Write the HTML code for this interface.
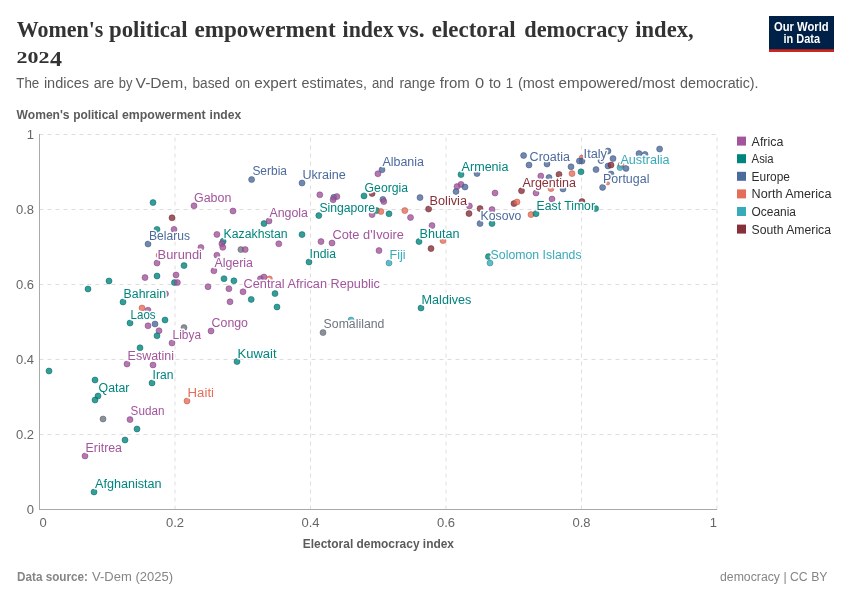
<!DOCTYPE html>
<html lang="en"><head><meta charset="utf-8"><title>Women's political empowerment index vs. electoral democracy index, 2024</title>
<style>
html,body{margin:0;padding:0;background:#fff;}
body{width:850px;height:600px;overflow:hidden;}
svg{display:block;font-family:"Liberation Sans",Arial,sans-serif;}
.ttl{font-family:"Liberation Serif","Times New Roman",serif;font-weight:bold;fill:#333;}
.sub{font-size:14px;fill:#5b5b5b;}
.axt{font-size:12px;font-weight:bold;fill:#5b5b5b;}
.tick{font-size:13px;fill:#666;}
.grid line{stroke:#ddd;stroke-width:1;stroke-dasharray:4,4;}
.lbl text{font-size:12.5px;stroke:#fff;stroke-width:3px;stroke-linejoin:round;paint-order:stroke fill;}
.leg text{font-size:12.5px;fill:#2d2d2d;}
.foot{font-size:12.5px;fill:#858585;}
.logo text{font-size:12.4px;font-weight:bold;fill:#fff;text-anchor:middle;}
</style></head><body>
<svg width="850" height="600" viewBox="0 0 850 600">
<rect width="850" height="600" fill="#fff"/>
<text class="ttl" y="36.6" font-size="22.6"><tspan x="16.7" textLength="86.7" lengthAdjust="spacingAndGlyphs">Women's</tspan> <tspan x="109.0" textLength="78.6" lengthAdjust="spacingAndGlyphs">political</tspan> <tspan x="194.4" textLength="141.3" lengthAdjust="spacingAndGlyphs">empowerment</tspan> <tspan x="342.6" textLength="51.0" lengthAdjust="spacingAndGlyphs">index</tspan> <tspan x="397.6" textLength="27.0" lengthAdjust="spacingAndGlyphs">vs.</tspan> <tspan x="431.8" textLength="83.9" lengthAdjust="spacingAndGlyphs">electoral</tspan> <tspan x="524.3" textLength="104.1" lengthAdjust="spacingAndGlyphs">democracy</tspan> <tspan x="635.3" textLength="58.3" lengthAdjust="spacingAndGlyphs">index,</tspan></text>
<text class="ttl" y="62.6" font-size="16.8"><tspan x="16.6" textLength="33" lengthAdjust="spacingAndGlyphs">202</tspan><tspan x="50" dy="3" font-size="21" textLength="12" lengthAdjust="spacingAndGlyphs">4</tspan></text>
<text class="sub" y="87.6"><tspan x="16.3" textLength="23.0" lengthAdjust="spacingAndGlyphs">The</tspan> <tspan x="43.9" textLength="45.2" lengthAdjust="spacingAndGlyphs">indices</tspan> <tspan x="93.7" textLength="20.5" lengthAdjust="spacingAndGlyphs">are</tspan> <tspan x="118.8" textLength="13.7" lengthAdjust="spacingAndGlyphs">by</tspan> <tspan x="135.6" textLength="52.0" lengthAdjust="spacingAndGlyphs">V-Dem,</tspan> <tspan x="192.5" textLength="37.3" lengthAdjust="spacingAndGlyphs">based</tspan> <tspan x="235.0" textLength="15.2" lengthAdjust="spacingAndGlyphs">on</tspan> <tspan x="254.2" textLength="42.5" lengthAdjust="spacingAndGlyphs">expert</tspan> <tspan x="301.6" textLength="65.4" lengthAdjust="spacingAndGlyphs">estimates,</tspan> <tspan x="371.9" textLength="22.0" lengthAdjust="spacingAndGlyphs">and</tspan> <tspan x="399.4" textLength="35.8" lengthAdjust="spacingAndGlyphs">range</tspan> <tspan x="439.8" textLength="30.0" lengthAdjust="spacingAndGlyphs">from</tspan> <tspan x="475.0" textLength="9.2" lengthAdjust="spacingAndGlyphs">0</tspan> <tspan x="489.0" textLength="12.0" lengthAdjust="spacingAndGlyphs">to</tspan> <tspan x="505.7" textLength="7.3" lengthAdjust="spacingAndGlyphs">1</tspan> <tspan x="517.9" textLength="36.4" lengthAdjust="spacingAndGlyphs">(most</tspan> <tspan x="558.6" textLength="116.5" lengthAdjust="spacingAndGlyphs">empowered/most</tspan> <tspan x="680.0" textLength="78.6" lengthAdjust="spacingAndGlyphs">democratic).</tspan></text>
<g class="logo"><rect x="769" y="16" width="65" height="36" fill="#002147"/><rect x="769" y="49.3" width="65" height="2.7" fill="#CE261E"/>
<text x="801.3" y="30.9" textLength="54.6" lengthAdjust="spacingAndGlyphs">Our World</text><text x="801.8" y="43" textLength="36.5" lengthAdjust="spacingAndGlyphs">in Data</text></g>
<text class="axt" y="119.2"><tspan x="16.6" textLength="53.0" lengthAdjust="spacingAndGlyphs">Women's</tspan> <tspan x="73.2" textLength="45.0" lengthAdjust="spacingAndGlyphs">political</tspan> <tspan x="122.0" textLength="83.6" lengthAdjust="spacingAndGlyphs">empowerment</tspan> <tspan x="209.6" textLength="31.6" lengthAdjust="spacingAndGlyphs">index</tspan></text>
<g class="grid">
<line x1="39.5" x2="717.0" y1="434.5" y2="434.5"/>
<line x1="39.5" x2="717.0" y1="359.5" y2="359.5"/>
<line x1="39.5" x2="717.0" y1="284.5" y2="284.5"/>
<line x1="39.5" x2="717.0" y1="209.5" y2="209.5"/>
<line x1="39.5" x2="717.0" y1="134.5" y2="134.5"/>
<line x1="175.0" x2="175.0" y1="509.5" y2="134.5"/>
<line x1="310.5" x2="310.5" y1="509.5" y2="134.5"/>
<line x1="446.0" x2="446.0" y1="509.5" y2="134.5"/>
<line x1="581.5" x2="581.5" y1="509.5" y2="134.5"/>
<line x1="717.0" x2="717.0" y1="509.5" y2="134.5"/>
</g>
<line x1="39.5" x2="39.5" y1="134.0" y2="510.0" stroke="#a9a9a9" stroke-width="1"/>
<line x1="39.0" x2="717.0" y1="509.5" y2="509.5" stroke="#a9a9a9" stroke-width="1"/>
<text class="tick" x="34" y="513.9" text-anchor="end">0</text>
<text class="tick" x="34" y="438.9" text-anchor="end">0.2</text>
<text class="tick" x="34" y="363.9" text-anchor="end">0.4</text>
<text class="tick" x="34" y="288.9" text-anchor="end">0.6</text>
<text class="tick" x="34" y="213.9" text-anchor="end">0.8</text>
<text class="tick" x="34" y="138.9" text-anchor="end">1</text>
<text class="tick" x="39.5" y="527.3">0</text>
<text class="tick" x="175.0" y="527.3" text-anchor="middle">0.2</text>
<text class="tick" x="310.5" y="527.3" text-anchor="middle">0.4</text>
<text class="tick" x="446.0" y="527.3" text-anchor="middle">0.6</text>
<text class="tick" x="581.5" y="527.3" text-anchor="middle">0.8</text>
<text class="tick" x="717" y="527.3" text-anchor="end">1</text>
<text class="axt" x="302.8" y="548" textLength="151.2" lengthAdjust="spacingAndGlyphs">Electoral democracy index</text>
<g class="dots" fill-opacity="0.8" stroke-width="0.5">
<circle cx="153" cy="202.6" r="3" fill="#00847E" stroke="#006560"/>
<circle cx="194" cy="205.8" r="3" fill="#A2559C" stroke="#7d3f78"/>
<circle cx="172" cy="217.8" r="3" fill="#883039" stroke="#66232a"/>
<circle cx="157" cy="229.4" r="3" fill="#00847E" stroke="#006560"/>
<circle cx="174" cy="229.4" r="3" fill="#A2559C" stroke="#7d3f78"/>
<circle cx="148" cy="244" r="3" fill="#4C6A9C" stroke="#3a5179"/>
<circle cx="251.6" cy="179.6" r="3" fill="#4C6A9C" stroke="#3a5179"/>
<circle cx="302" cy="183" r="3" fill="#4C6A9C" stroke="#3a5179"/>
<circle cx="319.8" cy="194.8" r="3" fill="#A2559C" stroke="#7d3f78"/>
<circle cx="333.8" cy="197.3" r="3" fill="#4C6A9C" stroke="#3a5179"/>
<circle cx="336.9" cy="196.6" r="3" fill="#A2559C" stroke="#7d3f78"/>
<circle cx="333.1" cy="199.8" r="3" fill="#A2559C" stroke="#7d3f78"/>
<circle cx="364" cy="195.9" r="3" fill="#00847E" stroke="#006560"/>
<circle cx="233" cy="211" r="3" fill="#A2559C" stroke="#7d3f78"/>
<circle cx="264" cy="223.6" r="3" fill="#00847E" stroke="#006560"/>
<circle cx="269" cy="221" r="3" fill="#A2559C" stroke="#7d3f78"/>
<circle cx="318.8" cy="215.6" r="3" fill="#00847E" stroke="#006560"/>
<circle cx="302" cy="234.6" r="3" fill="#00847E" stroke="#006560"/>
<circle cx="216.9" cy="234.4" r="3" fill="#A2559C" stroke="#7d3f78"/>
<circle cx="223.1" cy="241.3" r="3" fill="#00847E" stroke="#006560"/>
<circle cx="221.9" cy="243.8" r="3" fill="#A2559C" stroke="#7d3f78"/>
<circle cx="222.8" cy="247.3" r="3" fill="#A2559C" stroke="#7d3f78"/>
<circle cx="278.8" cy="243.8" r="3" fill="#A2559C" stroke="#7d3f78"/>
<circle cx="321" cy="241.6" r="3" fill="#A2559C" stroke="#7d3f78"/>
<circle cx="332" cy="243" r="3" fill="#A2559C" stroke="#7d3f78"/>
<circle cx="382" cy="169.8" r="3" fill="#4C6A9C" stroke="#3a5179"/>
<circle cx="377.9" cy="173.8" r="3" fill="#A2559C" stroke="#7d3f78"/>
<circle cx="372.1" cy="193.5" r="3" fill="#883039" stroke="#66232a"/>
<circle cx="382.9" cy="199.4" r="3" fill="#4C6A9C" stroke="#3a5179"/>
<circle cx="383.8" cy="201.6" r="3" fill="#A2559C" stroke="#7d3f78"/>
<circle cx="420" cy="197.6" r="3" fill="#4C6A9C" stroke="#3a5179"/>
<circle cx="376.6" cy="210.6" r="3" fill="#00847E" stroke="#006560"/>
<circle cx="380.9" cy="211.5" r="3" fill="#E56E5A" stroke="#b8503f"/>
<circle cx="389" cy="213.8" r="3" fill="#00847E" stroke="#006560"/>
<circle cx="372.1" cy="214.6" r="3" fill="#A2559C" stroke="#7d3f78"/>
<circle cx="404.8" cy="210.6" r="3" fill="#E56E5A" stroke="#b8503f"/>
<circle cx="410.5" cy="217.5" r="3" fill="#A2559C" stroke="#7d3f78"/>
<circle cx="428.6" cy="209" r="3" fill="#883039" stroke="#66232a"/>
<circle cx="432" cy="225.6" r="3" fill="#A2559C" stroke="#7d3f78"/>
<circle cx="419" cy="241.6" r="3" fill="#00847E" stroke="#006560"/>
<circle cx="443" cy="240.6" r="3" fill="#E56E5A" stroke="#b8503f"/>
<circle cx="461" cy="174.6" r="3" fill="#00847E" stroke="#006560"/>
<circle cx="477" cy="173.6" r="3" fill="#4C6A9C" stroke="#3a5179"/>
<circle cx="461" cy="184.4" r="3" fill="#A2559C" stroke="#7d3f78"/>
<circle cx="457" cy="186.6" r="3" fill="#A2559C" stroke="#7d3f78"/>
<circle cx="465" cy="187" r="3" fill="#4C6A9C" stroke="#3a5179"/>
<circle cx="456" cy="191.6" r="3" fill="#4C6A9C" stroke="#3a5179"/>
<circle cx="495" cy="193" r="3" fill="#A2559C" stroke="#7d3f78"/>
<circle cx="469.4" cy="206" r="3" fill="#A2559C" stroke="#7d3f78"/>
<circle cx="480" cy="208.6" r="3" fill="#883039" stroke="#66232a"/>
<circle cx="469" cy="213.6" r="3" fill="#883039" stroke="#66232a"/>
<circle cx="492" cy="209.6" r="3" fill="#A2559C" stroke="#7d3f78"/>
<circle cx="480" cy="223.6" r="3" fill="#4C6A9C" stroke="#3a5179"/>
<circle cx="492" cy="223.6" r="3" fill="#00847E" stroke="#006560"/>
<circle cx="523.6" cy="155.5" r="3" fill="#4C6A9C" stroke="#3a5179"/>
<circle cx="529" cy="165" r="3" fill="#4C6A9C" stroke="#3a5179"/>
<circle cx="540.8" cy="176" r="3" fill="#A2559C" stroke="#7d3f78"/>
<circle cx="521.5" cy="190.8" r="3" fill="#883039" stroke="#66232a"/>
<circle cx="536" cy="193" r="3" fill="#A2559C" stroke="#7d3f78"/>
<circle cx="514" cy="203.6" r="3" fill="#883039" stroke="#66232a"/>
<circle cx="517" cy="202" r="3" fill="#E56E5A" stroke="#b8503f"/>
<circle cx="531" cy="214.6" r="3" fill="#E56E5A" stroke="#b8503f"/>
<circle cx="536" cy="213.7" r="3" fill="#00847E" stroke="#006560"/>
<circle cx="659.6" cy="149" r="3" fill="#4C6A9C" stroke="#3a5179"/>
<circle cx="639" cy="153.6" r="3" fill="#4C6A9C" stroke="#3a5179"/>
<circle cx="645" cy="154.4" r="3" fill="#4C6A9C" stroke="#3a5179"/>
<circle cx="608" cy="151" r="3" fill="#4C6A9C" stroke="#3a5179"/>
<circle cx="613" cy="158.6" r="3" fill="#4C6A9C" stroke="#3a5179"/>
<circle cx="601" cy="160.6" r="3" fill="#4C6A9C" stroke="#3a5179"/>
<circle cx="581.6" cy="157.4" r="2.3" fill="#E56E5A" stroke="#b8503f"/>
<circle cx="582" cy="161" r="3" fill="#4C6A9C" stroke="#3a5179"/>
<circle cx="579.4" cy="161" r="3" fill="#4C6A9C" stroke="#3a5179"/>
<circle cx="571" cy="166.8" r="3" fill="#4C6A9C" stroke="#3a5179"/>
<circle cx="547" cy="164" r="3" fill="#4C6A9C" stroke="#3a5179"/>
<circle cx="581" cy="171.8" r="3" fill="#00847E" stroke="#006560"/>
<circle cx="572" cy="173.6" r="3" fill="#E56E5A" stroke="#b8503f"/>
<circle cx="559" cy="174.4" r="3" fill="#883039" stroke="#66232a"/>
<circle cx="549" cy="177.5" r="3" fill="#4C6A9C" stroke="#3a5179"/>
<circle cx="596" cy="169.6" r="3" fill="#4C6A9C" stroke="#3a5179"/>
<circle cx="608" cy="166" r="3" fill="#4C6A9C" stroke="#3a5179"/>
<circle cx="611" cy="165" r="3" fill="#883039" stroke="#66232a"/>
<circle cx="621" cy="165" r="3" fill="#E56E5A" stroke="#b8503f"/>
<circle cx="620" cy="167.6" r="3" fill="#38AABA" stroke="#29848f"/>
<circle cx="626" cy="168.4" r="3" fill="#4C6A9C" stroke="#3a5179"/>
<circle cx="611" cy="174" r="3" fill="#4C6A9C" stroke="#3a5179"/>
<circle cx="607.8" cy="183.2" r="1.8" fill="#E56E5A" stroke="#b8503f"/>
<circle cx="602.6" cy="187.4" r="3" fill="#4C6A9C" stroke="#3a5179"/>
<circle cx="551" cy="188.6" r="3" fill="#E56E5A" stroke="#b8503f"/>
<circle cx="563" cy="189" r="3" fill="#4C6A9C" stroke="#3a5179"/>
<circle cx="552" cy="199" r="3" fill="#A2559C" stroke="#7d3f78"/>
<circle cx="582" cy="201.6" r="3" fill="#883039" stroke="#66232a"/>
<circle cx="595.6" cy="208.6" r="3" fill="#00847E" stroke="#006560"/>
<circle cx="159.2" cy="255.3" r="3" fill="#E56E5A" stroke="#b8503f"/>
<circle cx="157" cy="263" r="3" fill="#A2559C" stroke="#7d3f78"/>
<circle cx="184" cy="265.6" r="3" fill="#00847E" stroke="#006560"/>
<circle cx="176" cy="275" r="3" fill="#A2559C" stroke="#7d3f78"/>
<circle cx="157" cy="276" r="3" fill="#00847E" stroke="#006560"/>
<circle cx="145" cy="277.6" r="3" fill="#A2559C" stroke="#7d3f78"/>
<circle cx="109" cy="281" r="3" fill="#00847E" stroke="#006560"/>
<circle cx="174.4" cy="282.6" r="3" fill="#00847E" stroke="#006560"/>
<circle cx="177.4" cy="282.6" r="3" fill="#A2559C" stroke="#7d3f78"/>
<circle cx="88" cy="289" r="3" fill="#00847E" stroke="#006560"/>
<circle cx="123" cy="302" r="3" fill="#00847E" stroke="#006560"/>
<circle cx="165.5" cy="293.8" r="3" fill="#A2559C" stroke="#7d3f78"/>
<circle cx="142" cy="308" r="3" fill="#E56E5A" stroke="#b8503f"/>
<circle cx="148" cy="310.2" r="3" fill="#A2559C" stroke="#7d3f78"/>
<circle cx="165" cy="320" r="3" fill="#00847E" stroke="#006560"/>
<circle cx="130" cy="323" r="3" fill="#00847E" stroke="#006560"/>
<circle cx="155" cy="324" r="3" fill="#4C6A9C" stroke="#3a5179"/>
<circle cx="148" cy="325.8" r="3" fill="#A2559C" stroke="#7d3f78"/>
<circle cx="159" cy="330.8" r="3" fill="#A2559C" stroke="#7d3f78"/>
<circle cx="184" cy="327.6" r="3" fill="#6E7581" stroke="#555b65"/>
<circle cx="157" cy="335.8" r="3" fill="#00847E" stroke="#006560"/>
<circle cx="172" cy="343" r="3" fill="#A2559C" stroke="#7d3f78"/>
<circle cx="140" cy="347.8" r="3" fill="#00847E" stroke="#006560"/>
<circle cx="127" cy="364" r="3" fill="#A2559C" stroke="#7d3f78"/>
<circle cx="153" cy="365" r="3" fill="#A2559C" stroke="#7d3f78"/>
<circle cx="200.9" cy="247.5" r="3" fill="#A2559C" stroke="#7d3f78"/>
<circle cx="240.9" cy="249.6" r="3" fill="#6E7581" stroke="#555b65"/>
<circle cx="245.2" cy="249.6" r="3" fill="#A2559C" stroke="#7d3f78"/>
<circle cx="216.9" cy="255.2" r="3" fill="#A2559C" stroke="#7d3f78"/>
<circle cx="213.9" cy="270.8" r="3" fill="#A2559C" stroke="#7d3f78"/>
<circle cx="309" cy="262" r="3" fill="#00847E" stroke="#006560"/>
<circle cx="224" cy="278.7" r="3" fill="#00847E" stroke="#006560"/>
<circle cx="233.9" cy="280.8" r="3" fill="#00847E" stroke="#006560"/>
<circle cx="208" cy="286.7" r="3" fill="#A2559C" stroke="#7d3f78"/>
<circle cx="228.9" cy="288.7" r="3" fill="#A2559C" stroke="#7d3f78"/>
<circle cx="243" cy="291.8" r="3" fill="#A2559C" stroke="#7d3f78"/>
<circle cx="260.4" cy="278.8" r="3" fill="#A2559C" stroke="#7d3f78"/>
<circle cx="263.9" cy="277" r="3" fill="#A2559C" stroke="#7d3f78"/>
<circle cx="269.4" cy="278.9" r="3" fill="#E56E5A" stroke="#b8503f"/>
<circle cx="275" cy="293.6" r="3" fill="#00847E" stroke="#006560"/>
<circle cx="251.2" cy="299.4" r="3" fill="#00847E" stroke="#006560"/>
<circle cx="230" cy="301.8" r="3" fill="#A2559C" stroke="#7d3f78"/>
<circle cx="277" cy="307" r="3" fill="#00847E" stroke="#006560"/>
<circle cx="211" cy="331" r="3" fill="#A2559C" stroke="#7d3f78"/>
<circle cx="351" cy="320" r="3" fill="#38AABA" stroke="#29848f"/>
<circle cx="323" cy="332.6" r="3" fill="#6E7581" stroke="#555b65"/>
<circle cx="237" cy="361.6" r="3" fill="#00847E" stroke="#006560"/>
<circle cx="379" cy="250.6" r="3" fill="#A2559C" stroke="#7d3f78"/>
<circle cx="389" cy="263" r="3" fill="#38AABA" stroke="#29848f"/>
<circle cx="431" cy="248.6" r="3" fill="#883039" stroke="#66232a"/>
<circle cx="488.4" cy="256.6" r="3" fill="#00847E" stroke="#006560"/>
<circle cx="490" cy="263" r="3" fill="#38AABA" stroke="#29848f"/>
<circle cx="421" cy="308" r="3" fill="#00847E" stroke="#006560"/>
<circle cx="49" cy="371" r="3" fill="#00847E" stroke="#006560"/>
<circle cx="95" cy="380" r="3" fill="#00847E" stroke="#006560"/>
<circle cx="152" cy="383" r="3" fill="#00847E" stroke="#006560"/>
<circle cx="98" cy="396" r="3" fill="#00847E" stroke="#006560"/>
<circle cx="95" cy="400" r="3" fill="#00847E" stroke="#006560"/>
<circle cx="187" cy="401" r="3" fill="#E56E5A" stroke="#b8503f"/>
<circle cx="103" cy="419" r="3" fill="#6E7581" stroke="#555b65"/>
<circle cx="130" cy="419.6" r="3" fill="#A2559C" stroke="#7d3f78"/>
<circle cx="137" cy="429" r="3" fill="#00847E" stroke="#006560"/>
<circle cx="125" cy="440" r="3" fill="#00847E" stroke="#006560"/>
<circle cx="85" cy="456" r="3" fill="#A2559C" stroke="#7d3f78"/>
<circle cx="94" cy="492" r="3" fill="#00847E" stroke="#006560"/>
</g>
<g class="lbl">
<text x="252.4" y="175.3" fill="#4C6A9C" textLength="34.6" lengthAdjust="spacingAndGlyphs">Serbia</text>
<text x="302.4" y="178.9" fill="#4C6A9C" textLength="43.5" lengthAdjust="spacingAndGlyphs">Ukraine</text>
<text x="382.4" y="165.9" fill="#4C6A9C" textLength="41.6" lengthAdjust="spacingAndGlyphs">Albania</text>
<text x="194" y="201.9" fill="#A2559C" textLength="37.4" lengthAdjust="spacingAndGlyphs">Gabon</text>
<text x="269.4" y="216.7" fill="#A2559C" textLength="38.6" lengthAdjust="spacingAndGlyphs">Angola</text>
<text x="364.6" y="191.6" fill="#00847E" textLength="43.5" lengthAdjust="spacingAndGlyphs">Georgia</text>
<text x="319.4" y="211.6" fill="#00847E" textLength="55.6" lengthAdjust="spacingAndGlyphs">Singapore</text>
<text x="461.6" y="170.7" fill="#00847E" textLength="46.8" lengthAdjust="spacingAndGlyphs">Armenia</text>
<text x="529.6" y="160.9" fill="#4C6A9C" textLength="40.4" lengthAdjust="spacingAndGlyphs">Croatia</text>
<text x="583.6" y="157.9" fill="#4C6A9C" textLength="23.4" lengthAdjust="spacingAndGlyphs">Italy</text>
<text x="620.4" y="163.7" fill="#38AABA" textLength="49.2" lengthAdjust="spacingAndGlyphs">Australia</text>
<text x="603" y="182.7" fill="#4C6A9C" textLength="46.4" lengthAdjust="spacingAndGlyphs">Portugal</text>
<text x="522.4" y="186.9" fill="#883039" textLength="53.6" lengthAdjust="spacingAndGlyphs">Argentina</text>
<text x="536.6" y="209.7" fill="#00847E" textLength="58.4" lengthAdjust="spacingAndGlyphs">East Timor</text>
<text x="429.6" y="204.7" fill="#883039" textLength="37.4" lengthAdjust="spacingAndGlyphs">Bolivia</text>
<text x="480.6" y="219.7" fill="#4C6A9C" textLength="40.8" lengthAdjust="spacingAndGlyphs">Kosovo</text>
<text x="149" y="239.7" fill="#4C6A9C" textLength="41.0" lengthAdjust="spacingAndGlyphs">Belarus</text>
<text x="223.6" y="237.7" fill="#00847E" textLength="64.0" lengthAdjust="spacingAndGlyphs">Kazakhstan</text>
<text x="332.4" y="238.7" fill="#A2559C" textLength="71.6" lengthAdjust="spacingAndGlyphs">Cote d'Ivoire</text>
<text x="419.6" y="237.7" fill="#00847E" textLength="40.0" lengthAdjust="spacingAndGlyphs">Bhutan</text>
<text x="157.6" y="258.9" fill="#A2559C" textLength="44.4" lengthAdjust="spacingAndGlyphs">Burundi</text>
<text x="214.4" y="266.9" fill="#A2559C" textLength="38.6" lengthAdjust="spacingAndGlyphs">Algeria</text>
<text x="309.6" y="257.7" fill="#00847E" textLength="26.4" lengthAdjust="spacingAndGlyphs">India</text>
<text x="389.6" y="258.9" fill="#38AABA" textLength="16.0" lengthAdjust="spacingAndGlyphs">Fiji</text>
<text x="490.6" y="258.9" fill="#38AABA" textLength="91.0" lengthAdjust="spacingAndGlyphs">Solomon Islands</text>
<text x="243.6" y="287.9" fill="#A2559C" textLength="136.4" lengthAdjust="spacingAndGlyphs">Central African Republic</text>
<text x="123.6" y="297.7" fill="#00847E" textLength="42.4" lengthAdjust="spacingAndGlyphs">Bahrain</text>
<text x="421.6" y="303.7" fill="#00847E" textLength="49.8" lengthAdjust="spacingAndGlyphs">Maldives</text>
<text x="130.6" y="318.9" fill="#00847E" textLength="25.0" lengthAdjust="spacingAndGlyphs">Laos</text>
<text x="211.6" y="326.7" fill="#A2559C" textLength="36.4" lengthAdjust="spacingAndGlyphs">Congo</text>
<text x="323.6" y="328.3" fill="#6E7581" textLength="60.8" lengthAdjust="spacingAndGlyphs">Somaliland</text>
<text x="172.6" y="338.9" fill="#A2559C" textLength="28.4" lengthAdjust="spacingAndGlyphs">Libya</text>
<text x="127.6" y="359.9" fill="#A2559C" textLength="46.4" lengthAdjust="spacingAndGlyphs">Eswatini</text>
<text x="237.6" y="357.7" fill="#00847E" textLength="39.0" lengthAdjust="spacingAndGlyphs">Kuwait</text>
<text x="152.6" y="378.9" fill="#00847E" textLength="20.8" lengthAdjust="spacingAndGlyphs">Iran</text>
<text x="98.6" y="391.9" fill="#00847E" textLength="30.8" lengthAdjust="spacingAndGlyphs">Qatar</text>
<text x="187.6" y="396.9" fill="#E56E5A" textLength="26.4" lengthAdjust="spacingAndGlyphs">Haiti</text>
<text x="130.6" y="415.3" fill="#A2559C" textLength="33.8" lengthAdjust="spacingAndGlyphs">Sudan</text>
<text x="85.6" y="451.7" fill="#A2559C" textLength="36.4" lengthAdjust="spacingAndGlyphs">Eritrea</text>
<text x="95" y="488.3" fill="#00847E" textLength="66.6" lengthAdjust="spacingAndGlyphs">Afghanistan</text>
</g>
<g class="leg">
<rect x="737" y="136.6" width="9" height="9" fill="#A2559C"/><text x="751.6" y="145.6" textLength="31.8" lengthAdjust="spacingAndGlyphs">Africa</text>
<rect x="737" y="154.2" width="9" height="9" fill="#00847E"/><text x="751.6" y="163.2" textLength="22" lengthAdjust="spacingAndGlyphs">Asia</text>
<rect x="737" y="171.8" width="9" height="9" fill="#4C6A9C"/><text x="751.6" y="180.8" textLength="38.4" lengthAdjust="spacingAndGlyphs">Europe</text>
<rect x="737" y="189.4" width="9" height="9" fill="#E56E5A"/><text x="751.6" y="198.4" textLength="79.8" lengthAdjust="spacingAndGlyphs">North America</text>
<rect x="737" y="207.0" width="9" height="9" fill="#38AABA"/><text x="751.6" y="216.0" textLength="44.4" lengthAdjust="spacingAndGlyphs">Oceania</text>
<rect x="737" y="224.6" width="9" height="9" fill="#883039"/><text x="751.6" y="233.6" textLength="79.4" lengthAdjust="spacingAndGlyphs">South America</text>
</g>
<text class="foot" x="17" y="580.6"><tspan font-weight="bold" textLength="71" lengthAdjust="spacingAndGlyphs">Data source:</tspan> <tspan x="92" textLength="81" lengthAdjust="spacingAndGlyphs">V-Dem (2025)</tspan></text>
<text class="foot" x="720" y="580.8" textLength="107.5" lengthAdjust="spacingAndGlyphs">democracy | CC BY</text>
</svg></body></html>
